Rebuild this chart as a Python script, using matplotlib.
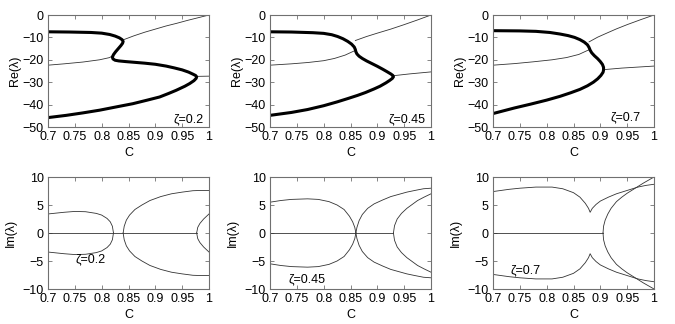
import matplotlib.pyplot as plt
from matplotlib.ticker import MultipleLocator

plt.rcParams['font.family'] = ['Liberation Sans', 'DejaVu Sans']
plt.rcParams['font.size'] = 9

zetas = ['0.2', '0.45', '0.7']

# ---- Re(lambda): thick = real eigenvalues (S-shaped), thin = real part of complex pairs
re_thick_c = [
    [0.70, 0.74, 0.78, 0.80, 0.815, 0.825, 0.833, 0.838, 0.840, 0.839, 0.836, 0.831, 0.826, 0.822, 0.820,
     0.821, 0.825, 0.832, 0.845, 0.86, 0.88, 0.90, 0.92, 0.935, 0.95, 0.962, 0.97, 0.975, 0.977,
     0.976, 0.972, 0.964, 0.955, 0.939, 0.925, 0.908, 0.885, 0.858, 0.83, 0.796, 0.765, 0.734, 0.70],
    [0.70, 0.74, 0.78, 0.80, 0.815, 0.826, 0.836, 0.845, 0.852, 0.857, 0.859, 0.860, 0.862, 0.866, 0.872,
     0.88, 0.89, 0.90, 0.91, 0.918, 0.925, 0.929, 0.930, 0.928, 0.923, 0.916, 0.905, 0.894, 0.878,
     0.863, 0.845, 0.825, 0.80, 0.77, 0.74, 0.70],
    [0.70, 0.75, 0.78, 0.806, 0.825, 0.84, 0.852, 0.862, 0.870, 0.876, 0.879, 0.881, 0.884, 0.889, 0.895,
     0.900, 0.904, 0.906, 0.906, 0.905, 0.901, 0.895, 0.887, 0.876, 0.862, 0.845, 0.825, 0.80, 0.77,
     0.74, 0.70],
]
re_thick_v = [
    [-7.5, -7.6, -7.8, -8.1, -8.7, -9.4, -10.2, -11.0, -11.8, -12.6, -13.6, -15.0, -16.4, -17.7, -18.8,
     -19.6, -20.2, -20.5, -20.8, -21.1, -21.5, -22.0, -22.8, -23.6, -24.5, -25.5, -26.4, -27.0, -27.6,
     -28.3, -29.3, -30.6, -31.8, -33.6, -35.0, -36.6, -38.0, -39.6, -40.9, -42.5, -43.7, -44.8, -45.8],
    [-7.5, -7.6, -7.9, -8.2, -8.8, -9.6, -10.6, -11.8, -13.0, -14.3, -15.4, -16.4, -17.4, -18.4, -19.4,
     -20.5, -21.7, -22.9, -24.2, -25.3, -26.3, -27.0, -27.6, -28.3, -29.2, -30.3, -31.8, -33.0, -34.6,
     -35.9, -37.3, -38.8, -40.5, -42.2, -43.5, -44.8],
    [-7.0, -7.1, -7.3, -7.8, -8.5, -9.2, -10.0, -11.0, -12.1, -13.3, -14.5, -15.7, -16.9, -18.2, -19.5,
     -20.8, -22.1, -23.4, -24.6, -25.6, -27.0, -28.5, -30.0, -31.6, -33.2, -34.7, -36.3, -38.0, -39.8,
     -41.5, -44.0],
]

re_thin_left_c = [
    [0.70, 0.73, 0.765, 0.796, 0.815, 0.821],
    [0.70, 0.74, 0.771, 0.80, 0.82, 0.84, 0.859],
    [0.70, 0.74, 0.775, 0.81, 0.837, 0.86, 0.880],
]
re_thin_left_v = [
    [-22.4, -21.8, -21.0, -20.0, -19.0, -18.0],
    [-22.4, -21.8, -21.2, -20.4, -19.4, -17.9, -15.8],
    [-22.4, -21.7, -20.9, -20.0, -19.0, -17.6, -15.4],
]
re_thin_up_c = [
    [0.839, 0.86, 0.88, 0.90, 0.92, 0.94, 0.96, 0.98, 1.0],
    [0.859, 0.88, 0.90, 0.925, 0.95, 0.975, 1.0],
    [0.879, 0.895, 0.91, 0.93, 0.95, 0.975, 1.0],
]
re_thin_up_v = [
    [-11.2, -9.3, -7.7, -6.3, -4.9, -3.7, -2.4, -1.2, 0.0],
    [-11.4, -9.6, -8.1, -6.3, -4.3, -2.2, 0.0],
    [-12.0, -9.9, -8.3, -6.2, -4.3, -2.1, 0.0],
]
re_thin_low_c = [[0.977, 1.0], [0.930, 0.96, 1.0], [0.906, 0.94, 1.0]]
re_thin_low_v = [[-27.4, -27.3], [-27.1, -26.3, -25.4], [-24.4, -23.7, -22.8]]

# ---- Im(lambda): upper halves of conjugate pairs (lower half is the mirror)
im_branches = [
    [  # zeta = 0.2
        ([0.70, 0.73, 0.75, 0.77, 0.79, 0.80, 0.81, 0.816, 0.820, 0.822],
         [3.4, 3.7, 3.85, 3.8, 3.5, 3.2, 2.6, 2.0, 1.2, 0.0]),
        ([0.840, 0.842, 0.846, 0.852, 0.862, 0.875, 0.89, 0.91, 0.93, 0.95, 0.97, 0.985, 1.0],
         [0.0, 1.2, 2.3, 3.2, 4.2, 5.0, 5.8, 6.5, 7.0, 7.3, 7.55, 7.6, 7.6]),
        ([0.977, 0.979, 0.983, 0.99, 1.0],
         [0.0, 1.0, 1.7, 2.5, 3.4]),
    ],
    [  # zeta = 0.45
        ([0.70, 0.72, 0.74, 0.77, 0.79, 0.81, 0.825, 0.838, 0.848, 0.854, 0.858, 0.860],
         [5.5, 5.8, 6.0, 6.1, 6.0, 5.6, 5.0, 4.2, 3.0, 2.0, 1.0, 0.0]),
        ([0.860, 0.862, 0.866, 0.872, 0.882, 0.894, 0.91, 0.925, 0.94, 0.955, 0.97, 0.986, 1.0],
         [0.0, 1.0, 2.2, 3.3, 4.4, 5.2, 5.9, 6.5, 6.9, 7.3, 7.6, 7.9, 8.0]),
        ([0.930, 0.932, 0.937, 0.945, 0.955, 0.965, 0.975, 0.987, 1.0],
         [0.0, 1.3, 2.5, 3.5, 4.4, 5.1, 5.8, 6.4, 7.0]),
    ],
    [  # zeta = 0.7
        ([0.70, 0.73, 0.75, 0.78, 0.81, 0.83, 0.85, 0.862, 0.872, 0.878, 0.881,
          0.885, 0.892, 0.90, 0.915, 0.93, 0.95, 0.97, 0.985, 1.0],
         [7.4, 7.8, 8.0, 8.2, 8.2, 7.9, 7.2, 6.4, 5.3, 4.4, 3.7,
          4.4, 5.1, 5.7, 6.4, 7.0, 7.6, 8.2, 8.5, 8.7]),
        ([0.905, 0.906, 0.909, 0.914, 0.92, 0.93, 0.94, 0.95, 0.965, 0.98, 1.0],
         [0.0, 1.2, 2.3, 3.4, 4.4, 5.6, 6.4, 7.1, 8.0, 8.9, 10.0]),
    ],
]
im_zero_end = [0.977, 0.930, 0.905]

re_label_xy = [(0.99, -46.5), (0.99, -46.5), (0.975, -45.5)]
im_label_xy = [(0.752, -4.7), (0.735, -8.3), (0.733, -6.6)]

fig = plt.figure(figsize=(6.75, 3.24), dpi=100)
lefts = [48 / 675, 270 / 675, 493 / 675]
w = 161 / 675
h = 112 / 324

frame = '#707070'


def style(ax):
    ax.set_xlim(0.7, 1.0)
    ax.xaxis.set_major_locator(MultipleLocator(0.05))
    ax.set_xticks([0.7, 0.75, 0.8, 0.85, 0.9, 0.95, 1.0])
    ax.set_xticklabels(['0.7', '0.75', '0.8', '0.85', '0.9', '0.95', '1'])
    ax.tick_params(direction='in', top=True, right=True, length=3, width=0.6,
                   color=frame, pad=3)
    for s in ax.spines.values():
        s.set_color(frame)
        s.set_linewidth(0.8)
    ax.set_xlabel('C', labelpad=3)


for i in range(3):
    ax = fig.add_axes([lefts[i], 1 - 127 / 324, w, h])
    ax.plot(re_thin_left_c[i], re_thin_left_v[i], color='#333333', lw=0.6)
    ax.plot(re_thin_up_c[i], re_thin_up_v[i], color='#333333', lw=0.6)
    ax.plot(re_thin_low_c[i], re_thin_low_v[i], color='#333333', lw=0.6)
    ax.plot(re_thick_c[i], re_thick_v[i], color='black', lw=2.2,
            solid_capstyle='butt', solid_joinstyle='round')
    ax.set_ylim(-50, 0)
    ax.set_yticks([0, -10, -20, -30, -40, -50])
    style(ax)
    ax.set_ylabel('Re(λ)', labelpad=1)
    ax.text(*re_label_xy[i], 'ζ=' + zetas[i], ha='right', va='center')

    ax = fig.add_axes([lefts[i], 1 - 289 / 324, w, h])
    ax.plot([0.7, im_zero_end[i]], [0, 0], color='#333333', lw=0.6)
    for bc, bv in im_branches[i]:
        ax.plot(bc, bv, color='#333333', lw=0.6)
        ax.plot(bc, [-v for v in bv], color='#333333', lw=0.6)
    ax.set_ylim(-10, 10)
    ax.set_yticks([10, 5, 0, -5, -10])
    style(ax)
    ax.set_ylabel('Im(λ)', labelpad=4)
    ax.text(*im_label_xy[i], 'ζ=' + zetas[i], ha='left', va='center')

fig.savefig('out.png', dpi=100)
